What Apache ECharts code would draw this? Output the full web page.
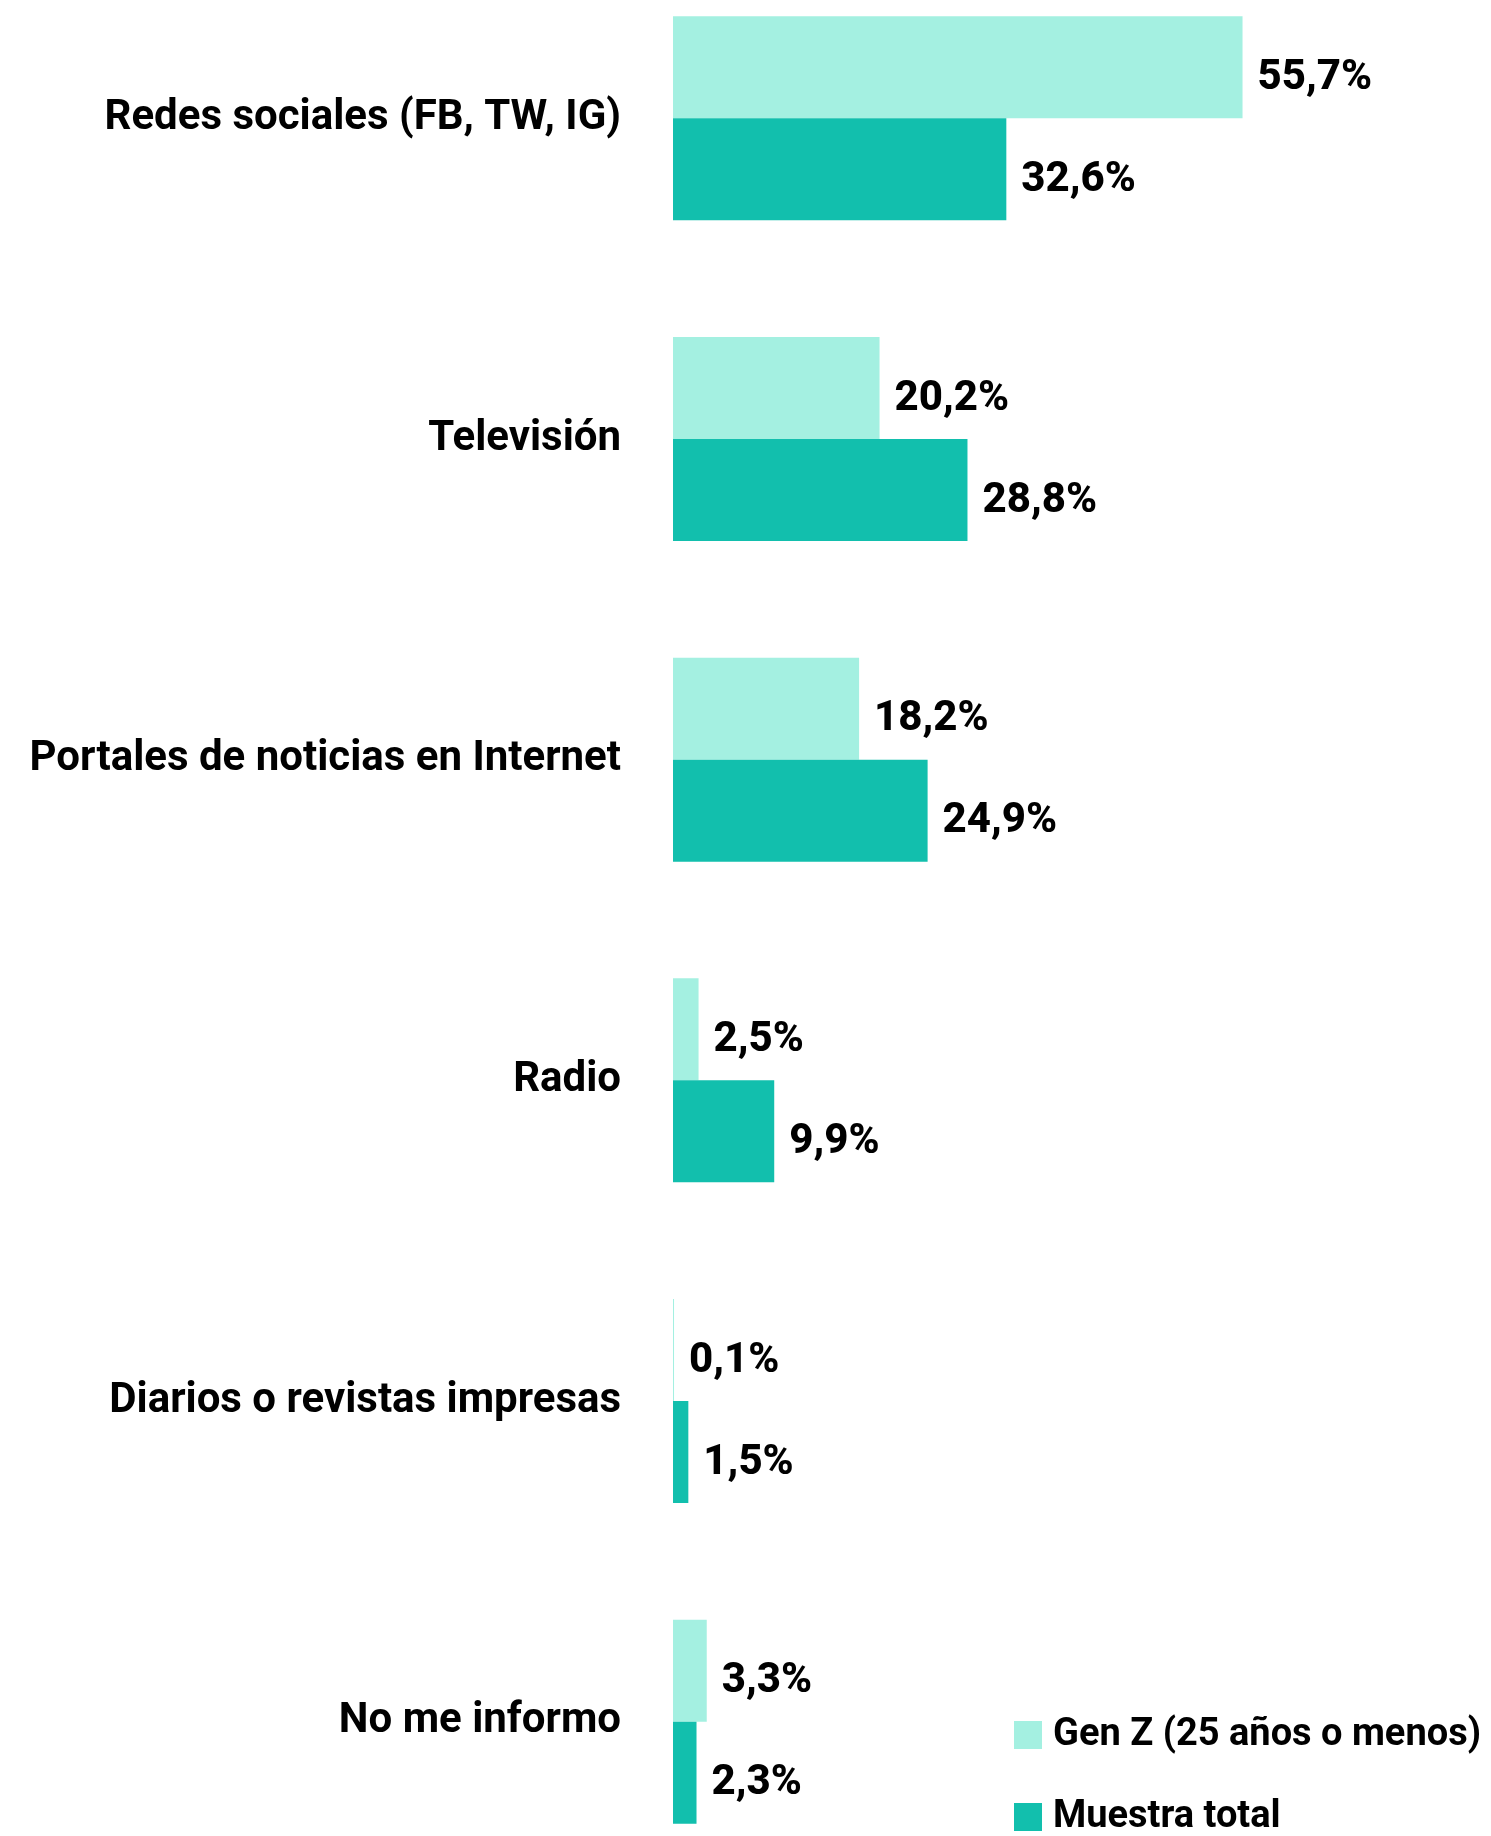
<!DOCTYPE html>
<html>
<head>
<meta charset="utf-8">
<script src="https://cdn.jsdelivr.net/npm/echarts@6/dist/echarts.min.js"></script>
<style>
  html, body { margin: 0; padding: 0; background: #fff; }
  #chart { width: 1491px; height: 1836px; }
</style>
</head>
<body>
<div id="chart"></div>
<script>
// data
const categories = [
  "Redes sociales (FB, TW, IG)",
  "Televisión",
  "Portales de noticias en Internet",
  "Radio",
  "Diarios o revistas impresas",
  "No me informo",
];
const genZ = [55.7, 20.2, 18.2, 2.5, 0.1, 3.3];
const muestraTotal = [32.6, 28.8, 24.9, 9.9, 1.5, 2.3];
const seriesNames = ["Gen Z (25 años o menos)", "Muestra total"];

const FONT = "Roboto, 'DejaVu Sans Condensed', sans-serif";
const fmt = (p) => String(p.value).replace(".", ",") + "%";

const labelStyle = {
  show: true,
  position: "right",
  distance: 15,
  offset: [0, 11],
  formatter: fmt,
  color: "#000",
  fontFamily: FONT,
  fontWeight: 800,
  fontSize: 42,
};

const legendText = {
  color: "#000",
  fontFamily: FONT,
  fontWeight: "bold",
  fontSize: 38,
  padding: [0, 0, 0, 6],
};

const makeLegend = (name, top) => ({
  orient: "vertical",
  left: 1009,
  top: top,
  height: 200,
  itemWidth: 28,
  itemHeight: 28,
  icon: "rect",
  data: [name],
  textStyle: legendText,
});

var myChart = echarts.init(document.getElementById("chart"));
var option = {
  animation: false,
  backgroundColor: "#fff",
  color: ["#a4f0e1", "#12bfad"],
  grid: {
    left: 673,
    right: 204.5,
    top: -42,
    bottom: -46,
    containLabel: false,
    outerBoundsMode: "none",
  },
  legend: [makeLegend(seriesNames[0], 1711), makeLegend(seriesNames[1], 1793)],
  xAxis: { type: "value", min: 0, max: 60, show: false },
  yAxis: {
    type: "category",
    inverse: true,
    data: categories,
    axisLine: { show: false },
    axisTick: { show: false },
    axisLabel: {
      margin: 52,
      padding: [19, 0, 0, 0],
      color: "#000",
      fontFamily: FONT,
      fontWeight: "bold",
      fontSize: 42,
    },
  },
  series: [
    {
      name: seriesNames[0],
      type: "bar",
      barWidth: 102,
      barGap: "0%",
      data: genZ,
      label: labelStyle,
    },
    {
      name: seriesNames[1],
      type: "bar",
      barWidth: 102,
      barGap: "0%",
      data: muestraTotal,
      label: labelStyle,
    },
  ],
};
myChart.setOption(option);
</script>
</body>
</html>
